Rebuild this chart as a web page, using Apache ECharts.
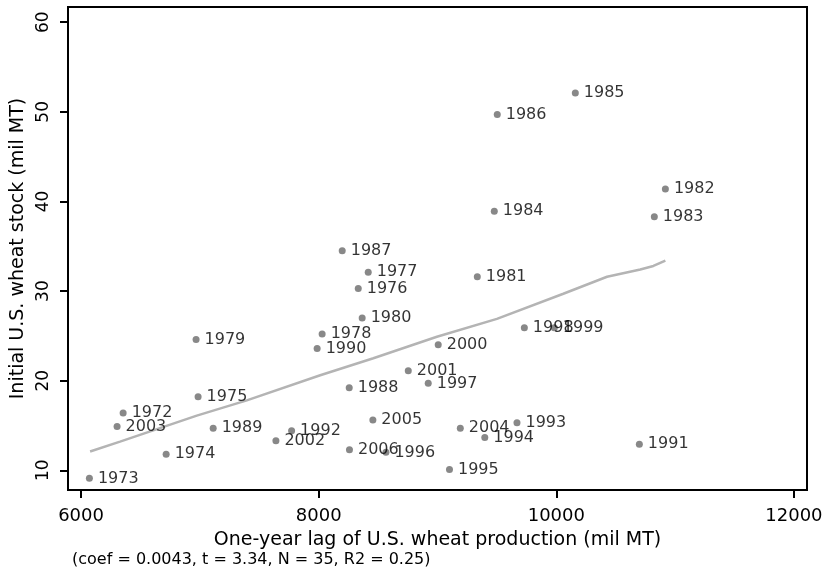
<!DOCTYPE html>
<html>
<head>
<meta charset="utf-8">
<script src="https://cdn.jsdelivr.net/npm/echarts@6/dist/echarts.min.js"></script>
<style>
html,body{margin:0;padding:0;background:#fff;}
#chart{width:829px;height:578px;}
</style>
</head>
<body>
<div id="chart"></div>
<script>
const years = [1972,1973,1974,1975,1976,1977,1978,1979,1980,1981,1982,1983,1984,1985,1986,1987,1988,1989,1990,1991,1992,1993,1994,1995,1996,1997,1998,1999,2000,2001,2002,2003,2004,2005,2006];
const lagProduction = [6354,6070,6716,6985,8333,8417,8029,6968,8366,9335,10918,10825,9478,10160,9503,8198,8257,7112,7987,10699,7772,9669,9398,9101,8566,8922,9731,9983,9006,8754,7640,6303,9192,8456,8259];
const wheatStock = [16.4,9.1,11.8,18.2,30.3,32.1,25.2,24.6,27.0,31.6,41.4,38.3,38.9,52.1,49.7,34.5,19.2,14.7,23.6,12.9,14.4,15.3,13.65,10.1,12.0,19.7,25.9,25.9,24.0,21.1,13.3,14.9,14.7,15.6,12.3];
const fitX = [6076,6328,6974,7395,8013,8460,8995,9500,10059,10427,10707,10817,10918];
const fitY = [12.1,13.2,16.1,17.8,20.6,22.5,24.9,26.9,29.7,31.6,32.4,32.8,33.4];
const xTicks = [6000,8000,10000,12000];
const yTicks = [10,20,30,40,50,60];
const xTitle = 'One-year lag of U.S. wheat production (mil MT)';
const yTitle = 'Initial U.S. wheat stock (mil MT)';
const note = '(coef = 0.0043, t = 3.34, N = 35, R2 = 0.25)';

const points = years.map((y, i) => [lagProduction[i], wheatStock[i], y]);
const fitLine = fitX.map((x, i) => [x, fitY[i]]);

const font = '"DejaVu Sans", Verdana, sans-serif';
const chart = echarts.init(document.getElementById('chart'));
chart.setOption({
  animation: false,
  backgroundColor: '#fff',
  grid: { left: 68, right: 22, top: 7, bottom: 88, show: true, borderColor: '#000', borderWidth: 2, containLabel: false, outerBoundsMode: 'none' },
  graphic: [{
    type: 'text', left: 72, top: 552,
    style: { text: note, font: '16px ' + font, fill: '#000' }
  }],
  xAxis: {
    type: 'value', min: 5890, max: 12110,
    name: xTitle, nameLocation: 'middle', nameGap: 41,
    nameTextStyle: { fontFamily: font, fontSize: 19, color: '#000' },
    splitLine: { show: false },
    axisLine: { show: true, lineStyle: { color: '#000', width: 2 } },
    axisTick: { show: true, length: 8, lineStyle: { color: '#000', width: 2 }, customValues: xTicks },
    axisLabel: { customValues: xTicks, margin: 17, fontFamily: font, fontSize: 18, color: '#000', formatter: v => String(v) }
  },
  yAxis: {
    type: 'value', min: 7.8, max: 61.7,
    name: yTitle, nameLocation: 'middle', nameGap: 39,
    nameTextStyle: { fontFamily: font, fontSize: 19, color: '#000' },
    splitLine: { show: false },
    axisLine: { show: true, lineStyle: { color: '#000', width: 2 } },
    axisTick: { show: true, length: 8, lineStyle: { color: '#000', width: 2 }, customValues: yTicks },
    axisLabel: { customValues: yTicks, rotate: 90, margin: 16, fontFamily: font, fontSize: 17, color: '#000', formatter: v => String(v) }
  },
  series: [
    {
      type: 'line', data: fitLine, showSymbol: false, symbol: 'none', smooth: false,
      lineStyle: { color: '#b4b4b4', width: 2.5 }, z: 1
    },
    {
      type: 'scatter', data: points, symbolSize: 7,
      itemStyle: { color: '#6a6a6a' },
      label: {
        show: true, position: 'right', distance: 5,
        formatter: p => String(p.value[2]),
        fontFamily: font, fontSize: 16, color: '#000'
      },
      z: 2
    }
  ]
});
</script>
</body>
</html>
